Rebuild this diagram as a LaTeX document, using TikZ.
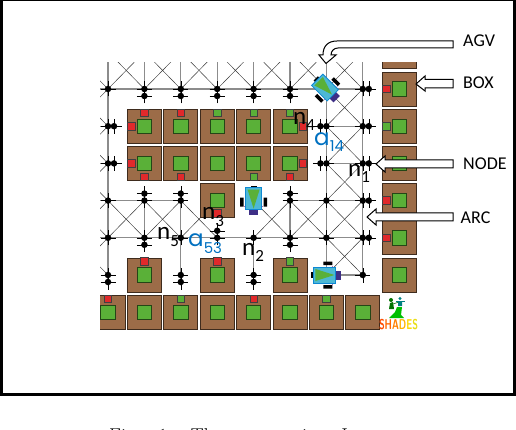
\documentclass[tikz,border=0pt]{standalone}
\usepackage{fontspec}
\usepackage{xcolor}
\usetikzlibrary{arrows.meta, positioning}
\newfontfamily\labelfont{Carlito}
\newfontfamily\arcfont{Poppins}
\definecolor{boxbrown}{HTML}{9C6C48}
\definecolor{goodsgreen}{HTML}{5AB038}
\definecolor{flagred}{HTML}{E0292B}
\definecolor{agvblue}{HTML}{4DB8D4}
\definecolor{arcblue}{HTML}{0070C0}
\definecolor{headviolet}{HTML}{3E2F86}
\newcommand{\gdot}[2]{\node[gnode] (#1) at (#2) {};
  \draw[tick] ([xshift=-7.5pt]#2) -- ([xshift=7.5pt]#2) ([yshift=-7.5pt]#2) -- ([yshift=7.5pt]#2);}
\newcommand{\agv}[2]{\begin{scope}[shift={(#1)}, rotate=#2]
  \fill[black] (-15,-3) rectangle (-12,3);
  \fill[black] (-3,-13.5) rectangle (6,-10) (-3,10) rectangle (6,13.5);
  \fill[headviolet] (8,-4.5) rectangle (14.5,4.5);
  \draw[violet!60, line width=.8pt] (6,-9.5) -- (6,9.5);
  \draw[cyan!70!blue, fill=agvblue, line width=.8pt] (-13,-8) rectangle (9,8);
  \fill[goodsgreen] (-11,-6) -- (8,0) -- (-11,6) -- cycle;
\end{scope}}
\begin{document}
\begin{tikzpicture}[
    x=1pt, y=-1pt,
    gnode/.style={circle, fill=black, inner sep=0pt, minimum size=6.5pt},
    tick/.style={draw=black, line width=.3pt},
    arc/.style={draw=black!45, line width=1.2pt},
    diag/.style={draw=black!80, line width=.45pt},
    cargo/.style={draw=black!60!boxbrown, fill=boxbrown, line width=.7pt, minimum size=34pt, inner sep=0pt},
    goods/.style={draw=black!60!goodsgreen, fill=goodsgreen, line width=.8pt, minimum size=14.5pt, inner sep=0pt},
    flag/.style={draw=black!75, line width=.7pt, minimum size=7.5pt, inner sep=0pt},
    pointer/.style={draw=black, fill=white, line width=1pt, line join=miter},
    tag/.style={font=\labelfont\fontsize{18}{18}\selectfont, anchor=base west, inner sep=0pt},
    nlab/.style={font=\labelfont\fontsize{25}{25}\selectfont, anchor=base west, inner sep=0pt, text=black},
    alab/.style={font=\arcfont\fontsize{23}{23}\selectfont, anchor=base west, inner sep=0pt, text=arcblue}
]
\useasboundingbox (0,0) rectangle (516,430);
\draw[line width=3pt] (1.2,-.5) rectangle (514.5,394.5);

% grid points, row 0 and column 0 are off the picture
\foreach \c in {0,...,9}
  \foreach \r in {0,...,7}
    \coordinate (n\c\r) at ({108+36.4*(\c-1)},{89+37.2*(\r-1)});
% short spurs beside the grid points
\foreach \c/\r/\dx/\dy in {2/1/0/7, 3/1/0/7, 4/1/0/7, 5/1/0/7, 6/1/0/7,
    1/2/6/0, 1/3/6/0, 2/4/0/-7, 3/4/0/-7, 6/4/0/-7, 2/5/0/7, 4/5/0/-7, 6/5/0/7,
    1/6/0/7, 3/6/0/7, 5/6/0/7, 8/1/6/0, 8/2/6/0, 8/3/6/0, 8/4/6/0, 8/5/6/0,
    7/2/-6/0, 7/3/-6/0}
  \coordinate (s\c\r) at ([shift={(\dx pt,-\dy pt)}]n\c\r);

\begin{scope}
\clip (100,63) rectangle (420,335);
\foreach \c/\r in {1/0,2/0,3/0,4/0,5/0,6/0,7/0, 0/0,0/1,0/2,0/3,0/4,0/5,
    1/4,2/4,3/4,5/4,6/4,7/4, 7/1,7/2,7/3,7/5} {
  \pgfmathtruncatemacro{\cc}{\c+1}
  \pgfmathtruncatemacro{\rr}{\r+1}
  \draw[diag] (n\c\r) -- (n\cc\rr);
  \draw[diag] (n\cc\r) -- (n\c\rr);
}
\foreach \a/\b in {n01/s81, s72/s82, s73/s83, n04/n34, n64/s84, n05/s85, n76/n86,
    n10/s16, n20/s21, n30/s31, n40/s41, n50/s51, n60/s61, n70/n76, n80/n86,
    s24/s25, s34/s36, s45/n45, n55/s56, s64/s65, n02/s12, n03/s13}
  \draw[arc] (\a) -- (\b);
\foreach \c/\r in {1/1,2/1,3/1,4/1,5/1,6/1,8/1, 1/2,7/2,8/2, 1/3,7/3,8/3,
    1/4,2/4,3/4,6/4,7/4,8/4, 1/5,2/5,3/5,4/5,5/5,6/5,7/5,8/5, 1/6,3/6,5/6,8/6} {
  \gdot{d\c\r}{n\c\r}
}
\foreach \c/\r in {2/1,3/1,4/1,5/1,6/1, 1/2,1/3, 2/4,3/4,6/4, 2/5,4/5,6/5,
    1/6,3/6,5/6, 8/1,8/2,8/3,8/4,8/5, 7/2,7/3} {
  \gdot{e\c\r}{s\c\r}
}

% boxes
\foreach \c/\r in {9/0,9/1,9/2,9/3,9/4,9/5,9/6, 2/2,3/2,4/2,5/2,6/2, 2/3,3/3,4/3,5/3,6/3,
    4/4, 2/6,4/6,6/6, 1/7,2/7,3/7,4/7,5/7,6/7,7/7,8/7} {
  \node[cargo] (b\c\r) at (n\c\r) {};
  \node[goods] (g\c\r) at (n\c\r) {};
}
\foreach \b/\dx/\dy/\col in {b22/0/-13.5/flagred, b22/-13/0/flagred, b32/0/-13.5/flagred,
    b42/0/-13.5/goodsgreen, b52/0/-13.5/goodsgreen, b62/0/-13.5/goodsgreen, b62/13/0/flagred,
    b23/-13/0/flagred, b23/0/13.5/flagred, b33/0/13.5/flagred, b53/0/13.5/goodsgreen,
    b63/13/0/flagred, b63/0/13.5/flagred, b44/0/13/flagred,
    b26/0/-13.5/flagred, b46/0/-13.5/flagred, b66/0/-13.5/goodsgreen,
    b17/0/-13.5/flagred, b37/0/-13.5/goodsgreen, b57/0/-13.5/flagred, b77/0/-13.5/goodsgreen,
    b91/-13/0/flagred, b92/-13/0/goodsgreen, b94/-13/0/flagred, b95/-13/0/flagred}
  \node[flag, fill=\col] at ([shift={(\dx pt,-\dy pt)}]\b) {};
\end{scope}

% vehicles
\agv{n71}{-45}
\agv{n54}{-90}
\agv{n76}{0}

% logo
\fill[green!75!black] (389,318) -- (395,312) -- (397,307) -- (402,307) -- (401,315) -- (404,318) -- cycle;
\fill[green!45!black] (391,300) circle (2) (389,309) -- (390,303) -- (393,302) -- (394,309) -- cycle;
\draw[green!45!black, line width=.5pt] (393,304) -- (399,302);
\fill[teal] (400,298.5) circle (1.6) (398,306) rectangle (402,301);
\draw[teal, line width=.4pt] (396,301.5) -- (405,301.5);
\node[anchor=base, inner sep=0pt, font=\sffamily\bfseries\fontsize{15}{15}\selectfont] (logo) at (398.5,329.5) {\scalebox{.62}[.95]{%
  \textcolor{orange!60!red}{S}\textcolor{orange!80!red}{H}\textcolor{orange}{A}\textcolor{orange!60!yellow}{D}\textcolor{orange!30!yellow}{E}\textcolor{yellow!90!black}{S}}};

% pointers
\draw[pointer] (453,41) -- (337,41) .. controls (328,41) and (323,46) .. (323,55) -- (319,55)
  -- (326,63.5) -- (336,55) -- (331,55) .. controls (331,51) and (334,48) .. (338,48) -- (453,48) -- cycle;
\draw[pointer] (453,79.5) -- (425,79.5) -- (425,76) -- (416,84) -- (425,91) -- (425,88) -- (453,88) -- cycle;
\draw[pointer] (453,160) -- (385,160) -- (385,156) -- (376,164) -- (385,172) -- (385,168) -- (453,168) -- cycle;
\draw[pointer] (453,213) -- (376,213) -- (376,209) -- (367,217) -- (376,225) -- (376,221) -- (453,221) -- cycle;

\node[tag] (agvlab) at (463,47) {AGV};
\node[tag] (boxlab) at (463,89) {BOX};
\node[tag] (nodelab) at (463,170) {NODE};
\node[tag] (arclab) at (460.5,223) {ARC};

\node[nlab] (n1lab) at (348,177) {n\raisebox{-6pt}{\fontsize{17}{17}\selectfont 1}};
\node[nlab] (n2lab) at (242,255) {n\raisebox{-6pt}{\fontsize{17}{17}\selectfont 2}};
\node[nlab] (n3lab) at (202,220) {n\raisebox{-6pt}{\fontsize{17}{17}\selectfont 3}};
\node[nlab] (n4lab) at (293,125) {n\raisebox{-6pt}{\fontsize{17}{17}\selectfont 4}};
\node[nlab] (n5lab) at (157,240) {n\raisebox{-6pt}{\fontsize{17}{17}\selectfont 5}};
\node[alab] (a14lab) at (314,146) {a\raisebox{-6pt}{\fontsize{15}{15}\selectfont 14}};
\node[alab] (a53lab) at (188,247) {a\raisebox{-6pt}{\fontsize{15}{15}\selectfont 53}};

\node[anchor=base west, inner sep=0pt, font=\fontsize{20}{20}\selectfont] (caption) at (109,442) {Fig.\hspace{18pt}1:\hspace{18pt}The\hspace{30pt}scenario\hspace{25pt}I};
\end{tikzpicture}
\end{document}
